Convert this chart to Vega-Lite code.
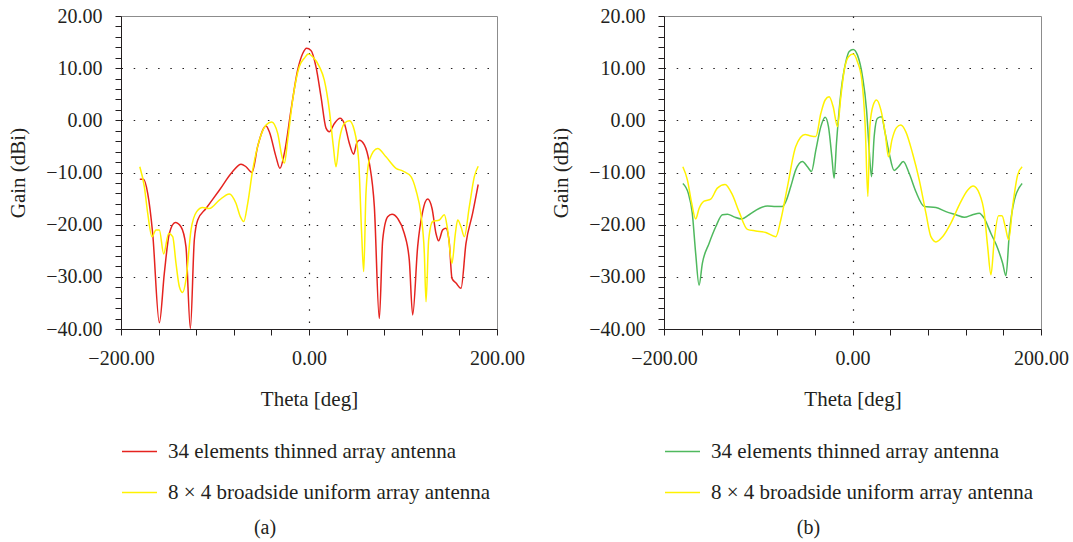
{
 "$schema": "https://vega.github.io/schema/vega-lite/v6.json",
 "background": "white",
 "padding": {"left": 7, "top": 5, "right": 5, "bottom": 0},
 "config": {
  "font": "Liberation Serif",
  "view": {"stroke": "#8c8c8c", "strokeWidth": 1},
  "axis": {"labelFont": "Liberation Serif", "titleFont": "Liberation Serif", "labelFontSize": 20, "titleFontSize": 21, "titleFontWeight": "normal", "labelColor": "#231f20", "titleColor": "#231f20", "domainColor": "#231f20", "tickColor": "#231f20", "gridColor": "#231f20", "gridDash": [1.5, 10.7], "gridWidth": 1.2, "tickSize": 6},
  "title": {"font": "Liberation Serif", "fontSize": 20, "fontWeight": "normal", "color": "#231f20"},
  "concat": {"spacing": 25}
 },
 "datasets": {
  "aThin": [{"theta":-180,"gain":-11.3},{"theta":-176,"gain":-11.3},{"theta":-171.6,"gain":-14.0},{"theta":-166.3,"gain":-21.7},{"theta":-159.2,"gain":-38.8},{"theta":-153.9,"gain":-29.3},{"theta":-148.6,"gain":-21.7},{"theta":-142.2,"gain":-19.6},{"theta":-136.2,"gain":-20.4},{"theta":-130.9,"gain":-24.2},{"theta":-126.2,"gain":-39.9},{"theta":-122,"gain":-22.9},{"theta":-118.4,"gain":-19.1},{"theta":-109.6,"gain":-16.9},{"theta":-95.4,"gain":-13.4},{"theta":-81.2,"gain":-9.8},{"theta":-72.3,"gain":-8.4},{"theta":-67,"gain":-8.9},{"theta":-60.6,"gain":-10.0},{"theta":-54.6,"gain":-5.0},{"theta":-45.7,"gain":-1.1},{"theta":-42.2,"gain":-2.2},{"theta":-35.1,"gain":-7.0},{"theta":-30.9,"gain":-9.2},{"theta":-26.2,"gain":-6.3},{"theta":-19.1,"gain":2.0},{"theta":-12.1,"gain":9.6},{"theta":-6.7,"gain":12.8},{"theta":-2.5,"gain":13.8},{"theta":2.1,"gain":13.4},{"theta":7.4,"gain":10.3},{"theta":12.8,"gain":4.5},{"theta":18.1,"gain":-1.5},{"theta":21.6,"gain":-2.2},{"theta":27,"gain":-0.6},{"theta":33,"gain":0.4},{"theta":37.6,"gain":-0.6},{"theta":42.9,"gain":-4.4},{"theta":47.5,"gain":-6.5},{"theta":50.7,"gain":-4.4},{"theta":53.5,"gain":-3.8},{"theta":58.9,"gain":-4.7},{"theta":64.2,"gain":-8.2},{"theta":69.5,"gain":-16.5},{"theta":74.8,"gain":-38.0},{"theta":78.4,"gain":-22.9},{"theta":83.7,"gain":-18.5},{"theta":88.3,"gain":-18.0},{"theta":94.3,"gain":-18.8},{"theta":101.4,"gain":-21.7},{"theta":106.7,"gain":-26.8},{"theta":110.3,"gain":-37.3},{"theta":115.6,"gain":-24.2},{"theta":120.9,"gain":-17.5},{"theta":126.2,"gain":-15.1},{"theta":130.9,"gain":-16.9},{"theta":135.1,"gain":-21.7},{"theta":137.9,"gain":-23.1},{"theta":142.2,"gain":-21.0},{"theta":145.7,"gain":-20.7},{"theta":149.3,"gain":-23.6},{"theta":152.1,"gain":-30.3},{"theta":156.4,"gain":-31.2},{"theta":161.7,"gain":-32.2},{"theta":167,"gain":-23.6},{"theta":174.1,"gain":-17.8},{"theta":180,"gain":-12.3}],
  "aUni": [{"theta":-180,"gain":-8.9},{"theta":-175.2,"gain":-12.7},{"theta":-171.6,"gain":-17.8},{"theta":-167,"gain":-22.3},{"theta":-162.8,"gain":-21.0},{"theta":-159.2,"gain":-21.0},{"theta":-154.6,"gain":-25.6},{"theta":-149.3,"gain":-21.7},{"theta":-145,"gain":-22.3},{"theta":-141.5,"gain":-27.4},{"theta":-137.9,"gain":-31.9},{"theta":-134.4,"gain":-33.0},{"theta":-130.9,"gain":-30.6},{"theta":-125.5,"gain":-21.0},{"theta":-119.5,"gain":-17.5},{"theta":-113.1,"gain":-16.7},{"theta":-106,"gain":-16.9},{"theta":-95.4,"gain":-15.3},{"theta":-84.8,"gain":-14.1},{"theta":-77.7,"gain":-15.9},{"theta":-73,"gain":-18.5},{"theta":-69.5,"gain":-19.4},{"theta":-65.2,"gain":-15.9},{"theta":-59.9,"gain":-9.5},{"theta":-52.8,"gain":-3.8},{"theta":-45.7,"gain":-0.9},{"theta":-39.7,"gain":-0.3},{"theta":-33.3,"gain":-2.5},{"theta":-28.7,"gain":-7.0},{"theta":-26.2,"gain":-8.2},{"theta":-22.7,"gain":-3.8},{"theta":-17.4,"gain":3.9},{"theta":-10.3,"gain":10.3},{"theta":-5,"gain":11.9},{"theta":-0.7,"gain":12.7},{"theta":3.9,"gain":12.2},{"theta":11,"gain":10.3},{"theta":16.3,"gain":7.7},{"theta":21.6,"gain":2.0},{"theta":25.9,"gain":-5.0},{"theta":28.7,"gain":-8.9},{"theta":32.3,"gain":-3.8},{"theta":37.6,"gain":-0.6},{"theta":42.9,"gain":-0.1},{"theta":48.2,"gain":-1.9},{"theta":52.8,"gain":-7.6},{"theta":56,"gain":-21.7},{"theta":58.2,"gain":-29.0},{"theta":60.6,"gain":-14.0},{"theta":64.2,"gain":-7.6},{"theta":73,"gain":-5.4},{"theta":81.9,"gain":-7.0},{"theta":92.6,"gain":-9.2},{"theta":99.6,"gain":-9.7},{"theta":108.5,"gain":-10.8},{"theta":113.8,"gain":-13.4},{"theta":119.1,"gain":-18.1},{"theta":122.7,"gain":-25.5},{"theta":124.5,"gain":-34.8},{"theta":127.3,"gain":-22.9},{"theta":131.6,"gain":-19.4},{"theta":138.7,"gain":-19.1},{"theta":144,"gain":-18.1},{"theta":147.5,"gain":-21.0},{"theta":152.1,"gain":-27.4},{"theta":155.7,"gain":-21.7},{"theta":158.2,"gain":-19.1},{"theta":161.7,"gain":-20.4},{"theta":165.2,"gain":-22.3},{"theta":170.6,"gain":-16.5},{"theta":175.9,"gain":-10.8},{"theta":180,"gain":-8.8}],
  "bThin": [{"theta":-180,"gain":-12.1},{"theta":-174.2,"gain":-14.0},{"theta":-170,"gain":-17.8},{"theta":-166.4,"gain":-25.5},{"theta":-162.8,"gain":-31.6},{"theta":-159.3,"gain":-27.4},{"theta":-152.2,"gain":-23.6},{"theta":-145.1,"gain":-20.4},{"theta":-138,"gain":-18.1},{"theta":-132.7,"gain":-18.0},{"theta":-125.7,"gain":-18.5},{"theta":-117.5,"gain":-18.9},{"theta":-109.7,"gain":-18.1},{"theta":-99.1,"gain":-16.9},{"theta":-90.3,"gain":-16.4},{"theta":-81.4,"gain":-16.5},{"theta":-74.3,"gain":-16.5},{"theta":-70.8,"gain":-15.6},{"theta":-65.5,"gain":-12.7},{"theta":-60.2,"gain":-9.5},{"theta":-53.1,"gain":-7.9},{"theta":-47.8,"gain":-8.9},{"theta":-43.5,"gain":-9.8},{"theta":-38.9,"gain":-5.7},{"theta":-33.6,"gain":-1.2},{"theta":-29,"gain":0.6},{"theta":-25.5,"gain":-1.2},{"theta":-21.9,"gain":-7.0},{"theta":-19.5,"gain":-11.1},{"theta":-17,"gain":-4.4},{"theta":-12.4,"gain":5.2},{"theta":-7.1,"gain":11.2},{"theta":-3.5,"gain":13.2},{"theta":0.7,"gain":13.6},{"theta":5.3,"gain":12.5},{"theta":10.6,"gain":8.4},{"theta":14.9,"gain":2.0},{"theta":17.7,"gain":-5.7},{"theta":20.2,"gain":-10.8},{"theta":23,"gain":-3.1},{"theta":26.5,"gain":0.4},{"theta":30.8,"gain":0.7},{"theta":34.7,"gain":-2.5},{"theta":38.9,"gain":-6.3},{"theta":44.2,"gain":-9.6},{"theta":48.8,"gain":-8.9},{"theta":53.8,"gain":-7.9},{"theta":60.2,"gain":-10.2},{"theta":67.3,"gain":-13.7},{"theta":76.1,"gain":-16.5},{"theta":88.5,"gain":-16.7},{"theta":99.1,"gain":-17.5},{"theta":109.7,"gain":-18.1},{"theta":118.6,"gain":-18.6},{"theta":127.4,"gain":-18.1},{"theta":134.5,"gain":-17.8},{"theta":139.8,"gain":-18.8},{"theta":146.9,"gain":-21.7},{"theta":154,"gain":-24.5},{"theta":159.3,"gain":-27.4},{"theta":162.8,"gain":-29.8},{"theta":166.4,"gain":-21.7},{"theta":171.7,"gain":-15.3},{"theta":180,"gain":-12.1}],
  "bUni": [{"theta":-180,"gain":-8.9},{"theta":-175.2,"gain":-11.4},{"theta":-170.6,"gain":-15.9},{"theta":-166.4,"gain":-18.9},{"theta":-162.8,"gain":-16.9},{"theta":-157.5,"gain":-15.5},{"theta":-150.4,"gain":-15.1},{"theta":-143.4,"gain":-13.0},{"theta":-135.2,"gain":-12.3},{"theta":-127.4,"gain":-14.3},{"theta":-120.4,"gain":-17.5},{"theta":-111.5,"gain":-20.9},{"theta":-102.7,"gain":-21.2},{"theta":-92,"gain":-21.5},{"theta":-81.4,"gain":-22.3},{"theta":-76.1,"gain":-19.1},{"theta":-69,"gain":-12.7},{"theta":-60.2,"gain":-5.0},{"theta":-50.3,"gain":-2.7},{"theta":-44.2,"gain":-3.0},{"theta":-38.9,"gain":-3.1},{"theta":-33.6,"gain":1.3},{"theta":-29,"gain":3.9},{"theta":-24.8,"gain":4.5},{"theta":-20.5,"gain":2.6},{"theta":-15.9,"gain":-1.2},{"theta":-12.4,"gain":4.5},{"theta":-8.8,"gain":9.6},{"theta":-4.2,"gain":12.2},{"theta":0.7,"gain":12.7},{"theta":5.3,"gain":11.2},{"theta":9.9,"gain":7.7},{"theta":13.5,"gain":-1.2},{"theta":16.3,"gain":-14.6},{"theta":18.4,"gain":-1.2},{"theta":21.9,"gain":2.9},{"theta":25.5,"gain":3.9},{"theta":30.1,"gain":2.0},{"theta":34.7,"gain":-2.5},{"theta":38.2,"gain":-7.0},{"theta":41.8,"gain":-3.8},{"theta":46.7,"gain":-1.4},{"theta":51.3,"gain":-0.9},{"theta":56.6,"gain":-2.2},{"theta":63.7,"gain":-6.3},{"theta":70.8,"gain":-11.4},{"theta":77.9,"gain":-17.8},{"theta":83.2,"gain":-22.3},{"theta":88.5,"gain":-23.3},{"theta":95.6,"gain":-22.3},{"theta":104.4,"gain":-19.7},{"theta":113.3,"gain":-16.2},{"theta":122.1,"gain":-13.4},{"theta":128.1,"gain":-12.6},{"theta":134.5,"gain":-14.0},{"theta":139.8,"gain":-17.8},{"theta":143.4,"gain":-24.2},{"theta":146.9,"gain":-29.6},{"theta":150.4,"gain":-22.9},{"theta":155,"gain":-18.3},{"theta":158.6,"gain":-18.3},{"theta":162.1,"gain":-20.4},{"theta":165.7,"gain":-22.9},{"theta":169.9,"gain":-16.5},{"theta":175.2,"gain":-10.5},{"theta":180,"gain":-8.9}]
 },
 "hconcat": [
  {
   "width": 376, "height": 313,
   "title": {"text": "(a)", "orient": "bottom", "anchor": "middle", "dx": -44, "offset": 15},
   "encoding": {
    "x": {"field": "theta", "type": "quantitative", "scale": {"domain": [-200, 200], "nice": false},
     "axis": {"title": "Theta [deg]", "values": [-200,-160,-120,-80,-40,0,40,80,120,160,200], "labelExpr": "datum.value % 200 === 0 ? format(datum.value, '.2f') : ''", "labelOverlap": false, "labelFlush": false, "labelPadding": 13, "titlePadding": 20, "grid": true, "gridOpacity": {"condition": {"test": "datum.value === 0", "value": 1}, "value": 0}}},
    "y": {"field": "gain", "type": "quantitative", "scale": {"domain": [-40, 20], "nice": false},
     "axis": {"title": "Gain (dBi)", "values": [-40,-38,-36,-34,-32,-30,-28,-26,-24,-22,-20,-18,-16,-14,-12,-10,-8,-6,-4,-2,0,2,4,6,8,10,12,14,16,18,20], "labelExpr": "datum.value % 10 === 0 ? format(datum.value, '.2f') : ''", "labelOverlap": false, "labelFlush": false, "labelPadding": 13, "titlePadding": 17, "grid": true, "gridOpacity": {"condition": {"test": "datum.value % 10 === 0 && datum.value > -40 && datum.value < 20", "value": 1}, "value": 0}}}
   },
   "layer": [
    {"data": {"name": "aThin"}, "mark": {"type": "line", "interpolate": "monotone", "strokeWidth": 1.5, "clip": true},
     "encoding": {"color": {"datum": "34 elements thinned array antenna", "type": "nominal",
      "scale": {"domain": ["34 elements thinned array antenna", "8 × 4 broadside uniform array antenna"], "range": ["#e5231f", "#fff200"]},
      "legend": {"orient": "none", "legendX": 0, "legendY": 417, "title": null, "symbolType": "stroke", "symbolSize": 1225, "symbolStrokeWidth": 1.5, "labelFontSize": 21, "labelFont": "Liberation Serif", "labelColor": "#231f20", "labelOffset": 10, "rowPadding": 12, "padding": 0, "direction": "vertical", "labelLimit": 0}}}},
    {"data": {"name": "aUni"}, "mark": {"type": "line", "interpolate": "monotone", "strokeWidth": 1.5, "clip": true},
     "encoding": {"color": {"datum": "8 × 4 broadside uniform array antenna", "type": "nominal"}}}
   ]
  },
  {
   "width": 377, "height": 313,
   "title": {"text": "(b)", "orient": "bottom", "anchor": "middle", "dx": -44, "offset": 15},
   "encoding": {
    "x": {"field": "theta", "type": "quantitative", "scale": {"domain": [-200, 200], "nice": false},
     "axis": {"title": "Theta [deg]", "values": [-200,-160,-120,-80,-40,0,40,80,120,160,200], "labelExpr": "datum.value % 200 === 0 ? format(datum.value, '.2f') : ''", "labelOverlap": false, "labelFlush": false, "labelPadding": 13, "titlePadding": 20, "grid": true, "gridOpacity": {"condition": {"test": "datum.value === 0", "value": 1}, "value": 0}}},
    "y": {"field": "gain", "type": "quantitative", "scale": {"domain": [-40, 20], "nice": false},
     "axis": {"title": "Gain (dBi)", "values": [-40,-38,-36,-34,-32,-30,-28,-26,-24,-22,-20,-18,-16,-14,-12,-10,-8,-6,-4,-2,0,2,4,6,8,10,12,14,16,18,20], "labelExpr": "datum.value % 10 === 0 ? format(datum.value, '.2f') : ''", "labelOverlap": false, "labelFlush": false, "labelPadding": 13, "titlePadding": 17, "grid": true, "gridOpacity": {"condition": {"test": "datum.value % 10 === 0 && datum.value > -40 && datum.value < 20", "value": 1}, "value": 0}}}
   },
   "layer": [
    {"data": {"name": "bThin"}, "mark": {"type": "line", "interpolate": "monotone", "strokeWidth": 1.5, "clip": true},
     "encoding": {"color": {"datum": "34 elements thinned array antenna", "type": "nominal",
      "scale": {"domain": ["34 elements thinned array antenna", "8 × 4 broadside uniform array antenna"], "range": ["#4fb95e", "#fff200"]},
      "legend": {"orient": "none", "legendX": 0, "legendY": 417, "title": null, "symbolType": "stroke", "symbolSize": 1225, "symbolStrokeWidth": 1.5, "labelFontSize": 21, "labelFont": "Liberation Serif", "labelColor": "#231f20", "labelOffset": 10, "rowPadding": 12, "padding": 0, "direction": "vertical", "labelLimit": 0}}}},
    {"data": {"name": "bUni"}, "mark": {"type": "line", "interpolate": "monotone", "strokeWidth": 1.5, "clip": true},
     "encoding": {"color": {"datum": "8 × 4 broadside uniform array antenna", "type": "nominal"}}}
   ]
  }
 ],
 "resolve": {"scale": {"color": "independent"}, "legend": {"color": "independent"}}
}
